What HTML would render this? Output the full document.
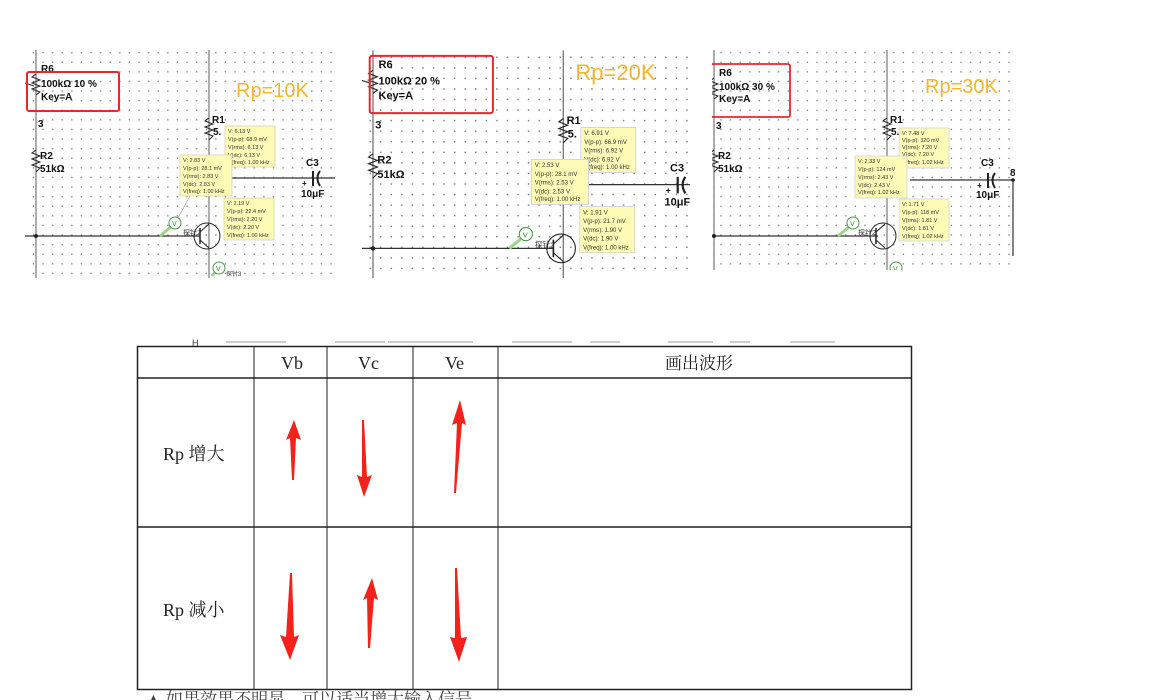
<!DOCTYPE html>
<html><head><meta charset="utf-8"><style>
html,body{margin:0;padding:0;background:#fff;width:1162px;height:700px;overflow:hidden}
svg text{font-family:"Liberation Sans","Noto Sans CJK SC",sans-serif}
svg text.sf{font-family:"Liberation Serif","Noto Serif CJK SC",serif;font-size:18px;fill:#222}
.b{font-weight:bold;font-size:10px;fill:#111}
.s{font-size:5.5px;fill:#333}
.rp{font-size:20px;fill:#f8b62c}
</style></head><body>
<svg width="1162" height="700" viewBox="0 0 1162 700" xmlns="http://www.w3.org/2000/svg">
<defs>
<pattern id="dots" x="0" y="0" width="9.6" height="9.6" patternUnits="userSpaceOnUse">
<rect x="4" y="4" width="1.3" height="1.3" fill="#777"/>
</pattern>
<clipPath id="c1"><rect x="25" y="50" width="310" height="228"/></clipPath>
<clipPath id="c2"><rect x="26" y="56" width="298" height="207"/></clipPath>
<clipPath id="c3"><rect x="34" y="50" width="303" height="220"/></clipPath>
</defs>

<!-- Panel 1 -->
<g clip-path="url(#c1)">
<rect x="25" y="50" width="310" height="228" fill="url(#dots)"/>
<line x1="36" y1="50" x2="36" y2="280" stroke="#777" stroke-width="1.2"/>
<line x1="209" y1="50" x2="209" y2="280" stroke="#777" stroke-width="1.2"/>
<polyline points="36,74 32,77 40,80 32,83 40,86 32,89 40,92 36,95" fill="none" stroke="#222" stroke-width="1"/>
<line x1="22" y1="82" x2="34" y2="86" stroke="#222"/>
<text class="b" x="41" y="72">R6</text>
<text class="b" x="41" y="87">100kΩ   10 %</text>
<text class="b" x="41" y="100">Key=A</text>
<rect x="27" y="72" width="92" height="39" fill="none" stroke="#e8272b" stroke-width="2" rx="2"/>
<text class="b" x="38" y="127">3</text>
<polyline points="36,150 32,153 40,156 32,159 40,162 32,165 40,168 36,172" fill="none" stroke="#222"/>
<text class="b" x="40" y="159">R2</text>
<text class="b" x="40" y="172">51kΩ</text>
<line x1="25" y1="236" x2="200" y2="236" stroke="#333" stroke-width="1.2"/>
<circle cx="36" cy="236" r="2" fill="#222"/>
<polyline points="209,118 205,121 213,124 205,127 213,130 205,133 213,136 209,140" fill="none" stroke="#222"/>
<text class="b" x="212" y="123">R1</text>
<text class="b" x="213" y="135">5.</text>
<line x1="232" y1="178" x2="335" y2="178" stroke="#333" stroke-width="1.2"/>
<line x1="313" y1="171" x2="313" y2="186" stroke="#222" stroke-width="2"/>
<path d="M320,171 Q315,178 320,186" fill="none" stroke="#222" stroke-width="2"/>
<text class="b" x="306" y="166">C3</text>
<text class="b" x="302" y="186" style="font-size:8px">+</text>
<text class="b" x="301" y="197">10μF</text>
<circle cx="207" cy="236" r="13" fill="none" stroke="#222"/>
<line x1="200" y1="228" x2="200" y2="244" stroke="#222" stroke-width="1.5"/>
<line x1="200" y1="232" x2="209" y2="224" stroke="#222"/>
<line x1="200" y1="240" x2="209" y2="248" stroke="#222"/>
<text x="183" y="235" style="font-size:7px;fill:#333">探针2</text>
<line x1="160" y1="236" x2="172" y2="226" stroke="#9bd58e" stroke-width="3"/>
<circle cx="175" cy="223" r="6" fill="#fff" stroke="#4a9a4a"/><text x="172" y="226" style="font-size:7px;fill:#3a8a3a">V</text>
<line x1="212" y1="276" x2="216" y2="271" stroke="#9bd58e" stroke-width="3"/>
<circle cx="219" cy="268" r="6" fill="#fff" stroke="#4a9a4a"/><text x="216" y="271" style="font-size:7px;fill:#3a8a3a">V</text>
<text x="226" y="276" style="font-size:6px;fill:#333">探针3</text>
<line x1="190" y1="196" x2="178" y2="218" stroke="#88a" stroke-width="0.6"/>
<rect x="225" y="126" width="50" height="41" fill="#fdfbb5" stroke="#c8c8a0" stroke-width="0.6"/>
<text class="s" x="228" y="133">V: 6.13 V</text><text class="s" x="228" y="141">V(p-p): 68.9 mV</text><text class="s" x="228" y="149">V(rms): 6.13 V</text><text class="s" x="228" y="157">V(dc): 6.13 V</text><text class="s" x="228" y="164">V(freq): 1.00 kHz</text>
<rect x="180" y="155" width="52" height="41" fill="#fdfbb5" stroke="#c8c8a0" stroke-width="0.6"/>
<text class="s" x="183" y="162">V: 2.83 V</text><text class="s" x="183" y="170">V(p-p): 28.1 mV</text><text class="s" x="183" y="178">V(rms): 2.83 V</text><text class="s" x="183" y="186">V(dc): 2.83 V</text><text class="s" x="183" y="193">V(freq): 1.00 kHz</text>
<rect x="224" y="198" width="50" height="42" fill="#fdfbb5" stroke="#c8c8a0" stroke-width="0.6"/>
<text class="s" x="227" y="205">V: 2.19 V</text><text class="s" x="227" y="213">V(p-p): 22.4 mV</text><text class="s" x="227" y="221">V(rms): 2.20 V</text><text class="s" x="227" y="229">V(dc): 2.20 V</text><text class="s" x="227" y="237">V(freq): 1.00 kHz</text>
<text class="rp" x="236" y="97">Rp=10K</text>
</g>

<!-- Panel 2 -->
<g transform="translate(333.4,-11.2) scale(1.1)">
<g clip-path="url(#c2)">
<rect x="20" y="50" width="310" height="228" fill="url(#dots)"/>
<line x1="36" y1="50" x2="36" y2="280" stroke="#777" stroke-width="1.2"/>
<line x1="209" y1="50" x2="209" y2="280" stroke="#777" stroke-width="1.2"/>
<polyline points="36,74 32,77 40,80 32,83 40,86 32,89 40,92 36,95" fill="none" stroke="#222"/>
<line x1="22" y1="82" x2="34" y2="86" stroke="#222"/>
<text class="b" x="41" y="72">R6</text>
<text class="b" x="41" y="87">100kΩ   20 %</text>
<text class="b" x="41" y="100">Key=A</text>
<rect x="33" y="61" width="112" height="52" fill="none" stroke="#e8272b" stroke-width="1.8" rx="2"/>
<text class="b" x="38" y="127">3</text>
<polyline points="36,150 32,153 40,156 32,159 40,162 32,165 40,168 36,172" fill="none" stroke="#222"/>
<text class="b" x="40" y="159">R2</text>
<text class="b" x="40" y="172">51kΩ</text>
<line x1="20" y1="236" x2="200" y2="236" stroke="#333" stroke-width="1.2"/>
<circle cx="36" cy="236" r="2" fill="#222"/>
<polyline points="209,118 205,121 213,124 205,127 213,130 205,133 213,136 209,140" fill="none" stroke="#222"/>
<text class="b" x="212" y="123">R1</text>
<text class="b" x="213" y="135">5.</text>
<line x1="232" y1="178" x2="335" y2="178" stroke="#333" stroke-width="1.2"/>
<line x1="313" y1="171" x2="313" y2="186" stroke="#222" stroke-width="2"/>
<path d="M320,171 Q315,178 320,186" fill="none" stroke="#222" stroke-width="2"/>
<text class="b" x="306" y="166">C3</text>
<text class="b" x="302" y="186" style="font-size:8px">+</text>
<text class="b" x="301" y="197">10μF</text>
<circle cx="207" cy="236" r="13" fill="none" stroke="#222"/>
<line x1="200" y1="228" x2="200" y2="244" stroke="#222" stroke-width="1.5"/>
<line x1="200" y1="232" x2="209" y2="224" stroke="#222"/>
<line x1="200" y1="240" x2="209" y2="248" stroke="#222"/>
<text x="183" y="235" style="font-size:7px;fill:#333">探针2</text>
<line x1="160" y1="236" x2="172" y2="226" stroke="#9bd58e" stroke-width="3"/>
<circle cx="175" cy="223" r="6" fill="#fff" stroke="#4a9a4a"/><text x="172" y="226" style="font-size:7px;fill:#3a8a3a">V</text>
<rect x="225" y="126" width="50" height="41" fill="#fdfbb5" stroke="#b8c8e0" stroke-width="0.6"/>
<text class="s" x="228" y="133">V: 6.91 V</text><text class="s" x="228" y="141">V(p-p): 66.9 mV</text><text class="s" x="228" y="149">V(rms): 6.92 V</text><text class="s" x="228" y="157">V(dc): 6.92 V</text><text class="s" x="228" y="164">V(freq): 1.00 kHz</text>
<rect x="180" y="155" width="52" height="41" fill="#fdfbb5" stroke="#b8c8e0" stroke-width="0.6"/>
<text class="s" x="183" y="162">V: 2.53 V</text><text class="s" x="183" y="170">V(p-p): 28.1 mV</text><text class="s" x="183" y="178">V(rms): 2.53 V</text><text class="s" x="183" y="186">V(dc): 2.53 V</text><text class="s" x="183" y="193">V(freq): 1.00 kHz</text>
<rect x="224" y="198" width="50" height="42" fill="#fdfbb5" stroke="#b8c8e0" stroke-width="0.6"/>
<text class="s" x="227" y="205">V: 1.91 V</text><text class="s" x="227" y="213">V(p-p): 21.7 mV</text><text class="s" x="227" y="221">V(rms): 1.90 V</text><text class="s" x="227" y="229">V(dc): 1.90 V</text><text class="s" x="227" y="237">V(freq): 1.00 kHz</text>
<text class="rp" x="220" y="83">Rp=20K</text>
</g></g>

<!-- Panel 3 -->
<g transform="translate(678,0)">
<g clip-path="url(#c3)">
<rect x="30" y="50" width="310" height="228" fill="url(#dots)"/>
<line x1="36" y1="50" x2="36" y2="280" stroke="#777" stroke-width="1.2"/>
<line x1="209" y1="50" x2="209" y2="280" stroke="#777" stroke-width="1.2"/>
<polyline points="36,78 32,81 40,84 32,87 40,90 32,93 40,96 36,99" fill="none" stroke="#222"/>
<line x1="22" y1="86" x2="34" y2="90" stroke="#222"/>
<text class="b" x="41" y="76">R6</text>
<text class="b" x="41" y="90">100kΩ   30 %</text>
<text class="b" x="41" y="102">Key=A</text>
<rect x="33" y="64" width="79" height="53" fill="none" stroke="#e8272b" stroke-width="1.8" rx="2"/>
<text class="b" x="38" y="129">3</text>
<polyline points="36,150 32,153 40,156 32,159 40,162 32,165 40,168 36,172" fill="none" stroke="#222"/>
<text class="b" x="40" y="159">R2</text>
<text class="b" x="40" y="172">51kΩ</text>
<line x1="30" y1="236" x2="200" y2="236" stroke="#333" stroke-width="1.2"/>
<circle cx="36" cy="236" r="2" fill="#222"/>
<polyline points="209,118 205,121 213,124 205,127 213,130 205,133 213,136 209,140" fill="none" stroke="#222"/>
<text class="b" x="212" y="123">R1</text>
<text class="b" x="213" y="135">5.</text>
<line x1="232" y1="180" x2="337" y2="180" stroke="#333" stroke-width="1.2"/>
<line x1="335" y1="180" x2="335" y2="256" stroke="#333" stroke-width="1.2"/>
<circle cx="335" cy="180" r="1.8" fill="#222"/>
<text class="b" x="332" y="176">8</text>
<line x1="310" y1="173" x2="310" y2="188" stroke="#222" stroke-width="2"/>
<path d="M317,173 Q312,180 317,188" fill="none" stroke="#222" stroke-width="2"/>
<text class="b" x="303" y="166">C3</text>
<text class="b" x="299" y="188" style="font-size:8px">+</text>
<text class="b" x="298" y="198">10μF</text>
<circle cx="205" cy="236" r="13" fill="none" stroke="#222"/>
<line x1="198" y1="228" x2="198" y2="244" stroke="#222" stroke-width="1.5"/>
<line x1="198" y1="232" x2="207" y2="224" stroke="#222"/>
<line x1="198" y1="240" x2="207" y2="248" stroke="#222"/>
<text x="180" y="235" style="font-size:7px;fill:#333">探针2</text>
<line x1="160" y1="236" x2="172" y2="226" stroke="#9bd58e" stroke-width="3"/>
<circle cx="175" cy="223" r="6" fill="#fff" stroke="#4a9a4a"/><text x="172" y="226" style="font-size:7px;fill:#3a8a3a">V</text>
<circle cx="218" cy="268" r="6" fill="#fff" stroke="#4a9a4a"/><text x="215" y="271" style="font-size:7px;fill:#3a8a3a">V</text>
<rect x="221" y="128" width="50" height="40" fill="#fdfbb5" stroke="#b8c8e0" stroke-width="0.6"/>
<text class="s" x="224" y="135">V: 7.48 V</text><text class="s" x="224" y="142">V(p-p): 320 mV</text><text class="s" x="224" y="149">V(rms): 7.20 V</text><text class="s" x="224" y="156">V(dc): 7.20 V</text><text class="s" x="224" y="164">V(freq): 1.02 kHz</text>
<rect x="177" y="156" width="52" height="42" fill="#fdfbb5" stroke="#b8c8e0" stroke-width="0.6"/>
<text class="s" x="180" y="163">V: 2.33 V</text><text class="s" x="180" y="171">V(p-p): 124 mV</text><text class="s" x="180" y="179">V(rms): 2.43 V</text><text class="s" x="180" y="187">V(dc): 2.43 V</text><text class="s" x="180" y="194">V(freq): 1.02 kHz</text>
<rect x="221" y="199" width="50" height="42" fill="#fdfbb5" stroke="#b8c8e0" stroke-width="0.6"/>
<text class="s" x="224" y="206">V: 1.71 V</text><text class="s" x="224" y="214">V(p-p): 118 mV</text><text class="s" x="224" y="222">V(rms): 1.81 V</text><text class="s" x="224" y="230">V(dc): 1.81 V</text><text class="s" x="224" y="238">V(freq): 1.02 kHz</text>
<text class="rp" x="247" y="93">Rp=30K</text>
</g></g>

<!-- faint text above table -->
<text x="192" y="346" style="font-size:9px;fill:#333">H</text>
<g fill="#ccc"><rect x="226" y="341" width="60" height="2"/><rect x="335" y="341" width="50" height="2"/><rect x="388" y="341" width="85" height="2"/><rect x="512" y="341" width="60" height="2"/><rect x="590" y="341" width="30" height="2"/><rect x="668" y="341" width="45" height="2"/><rect x="730" y="341" width="20" height="2"/><rect x="790" y="341" width="45" height="2"/></g>

<!-- Table -->
<g stroke="#222" fill="none">
<rect x="137.5" y="346.5" width="774" height="343" stroke-width="1.5"/>
<line x1="137" y1="378" x2="912" y2="378" stroke-width="1.5"/>
<line x1="137" y1="527" x2="912" y2="527" stroke-width="1.5"/>
<line x1="254" y1="346" x2="254" y2="690"/>
<line x1="327" y1="346" x2="327" y2="690"/>
<line x1="413" y1="346" x2="413" y2="690"/>
<line x1="498" y1="346" x2="498" y2="690"/>
</g>
<text class="sf" x="281" y="369">Vb</text><text class="sf" x="358" y="369">Vc</text><text class="sf" x="445" y="369">Ve</text>
<text class="sf" x="665" y="369" style="font-size:17px">画出波形</text>
<text class="sf" x="163" y="460">Rp 增大</text>
<text class="sf" x="163" y="616">Rp 减小</text>
<g fill="#f5221b">
<polygon points="294,420 301,440 296,438 294,480 292,480 290,438 286,440"/>
<polygon points="364,497 357,475 362,477 362,420 364,420 367,477 372,475"/>
<polygon points="460,400 466,425 462,423 456,493 454,493 457,423 452,425"/>
<polygon points="290,660 280,635 286,637 290,573 292,573 294,637 299,635"/>
<polygon points="372,578 378,600 374,598 370,648 368,648 367,598 363,600"/>
<polygon points="459,662 450,637 455,638 455,568 457,568 461,638 467,637"/>
</g>
<text class="sf" x="145" y="705" style="font-size:17px;fill:#444">▲  如果效果不明显，可以适当增大输入信号</text>
</svg>
</body></html>
